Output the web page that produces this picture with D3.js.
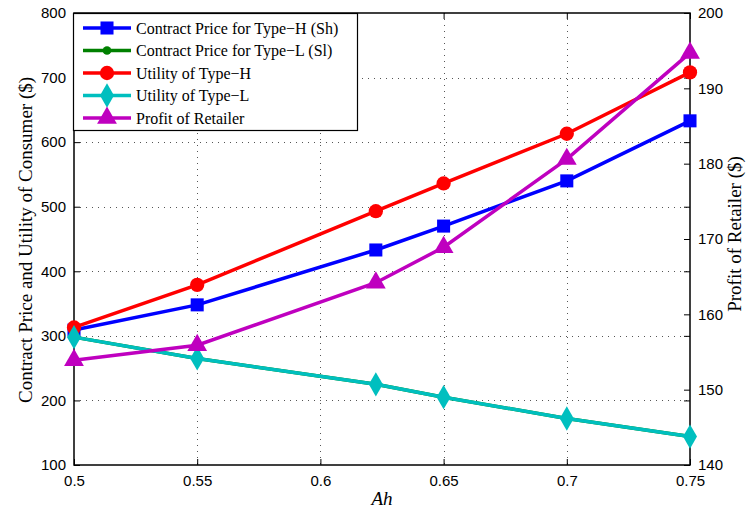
<!DOCTYPE html>
<html>
<head>
<meta charset="utf-8">
<script src="https://cdn.jsdelivr.net/npm/d3@7"></script>
<style>
  body { margin: 0; background: #fff; }
</style>
</head>
<body>
<script>
const ah = [0.5, 0.55, 0.6225, 0.65, 0.7, 0.75];
const priceH = [309, 348, 433, 470, 540, 633];
const priceL = [298, 265, 225, 205, 172, 144];
const utilH = [313, 379, 493, 536, 613, 708];
const utilL = [298, 265, 225, 205, 172, 144];
const profit = [153.9, 155.9, 164.2, 168.9, 180.6, 194.7];

const xTicks = [0.5, 0.55, 0.6, 0.65, 0.7, 0.75];
const yTicks = [100, 200, 300, 400, 500, 600, 700, 800];
const y2Ticks = [140, 150, 160, 170, 180, 190, 200];

const width = 750, height = 514;
const mLeft = 74, mRight = 690, mTop = 13, mBottom = 465;

const svg = d3.create("svg")
    .attr("width", width)
    .attr("height", height);
document.body.appendChild(svg.node());

const x = d3.scaleLinear().domain([0.5, 0.75]).range([mLeft, mRight]);
const y = d3.scaleLinear().domain([100, 800]).range([mBottom, mTop]);
const y2 = d3.scaleLinear().domain([140, 200]).range([mBottom, mTop]);

// grid
const grid = svg.append("g")
    .attr("stroke", "#555")
    .attr("stroke-width", 1)
    .attr("stroke-dasharray", "1,5");
grid.selectAll("line.gx")
    .data(xTicks.slice(1, -1))
    .join("line")
    .attr("x1", d => Math.round(x(d)) + 0.5).attr("x2", d => Math.round(x(d)) + 0.5)
    .attr("y1", mTop).attr("y2", mBottom);
grid.selectAll("line.gy")
    .data(yTicks.slice(1, -1))
    .join("line")
    .attr("y1", d => Math.round(y(d)) + 0.5).attr("y2", d => Math.round(y(d)) + 0.5)
    .attr("x1", mLeft).attr("x2", mRight);

// axes (ticks inward, like matlab)
const tickFont = "'Liberation Sans', Arial, sans-serif";
const axB = svg.append("g").attr("transform", `translate(0,${mBottom})`)
    .call(d3.axisBottom(x).tickValues(xTicks).tickSize(-6).tickPadding(10).tickFormat(d3.format("")));
const axT = svg.append("g").attr("transform", `translate(0,${mTop})`)
    .call(d3.axisTop(x).tickValues(xTicks).tickSize(-6).tickFormat(""));
const axL = svg.append("g").attr("transform", `translate(${mLeft},0)`)
    .call(d3.axisLeft(y).tickValues(yTicks).tickSize(-6).tickPadding(8));
const axR1 = svg.append("g").attr("transform", `translate(${mRight},0)`)
    .call(d3.axisRight(y).tickValues(yTicks).tickSize(-6).tickFormat(""));
const axR = svg.append("g").attr("transform", `translate(${mRight},0)`)
    .call(d3.axisRight(y2).tickValues(y2Ticks).tickSize(-6).tickPadding(8));

[axB, axT, axL, axR1, axR].forEach(a => {
  a.select(".domain").remove();
  a.selectAll("line").attr("stroke", "#000");
  a.selectAll("text").attr("fill", "#000")
    .style("font-family", tickFont).style("font-size", "15px");
});

// box
svg.append("rect")
    .attr("x", mLeft).attr("y", mTop)
    .attr("width", mRight - mLeft).attr("height", mBottom - mTop)
    .attr("fill", "none").attr("stroke", "#000").attr("stroke-width", 1.5);

const series = [
  { name: "Contract Price for Type\u2212H (Sh)", vals: priceH, axis: y, color: "#0000ff", marker: "square" },
  { name: "Contract Price for Type\u2212L (Sl)", vals: priceL, axis: y, color: "#008000", marker: "dot" },
  { name: "Utility of Type\u2212H", vals: utilH, axis: y, color: "#ff0000", marker: "circle" },
  { name: "Utility of Type\u2212L", vals: utilL, axis: y, color: "#00bfbf", marker: "diamond" },
  { name: "Profit of Retailer", vals: profit, axis: y2, color: "#bf00bf", marker: "triangle" }
];

const symbols = {
  square: d3.symbol(d3.symbolSquare, 170),
  dot: d3.symbol(d3.symbolCircle, 60),
  circle: d3.symbol(d3.symbolCircle, 160),
  diamond: d3.symbol(d3.symbolDiamond, 170),
  triangle: d3.symbol(d3.symbolTriangle, 170)
};

const line = d3.line();
series.forEach(s => {
  const pts = ah.map((a, i) => [x(a), s.axis(s.vals[i])]);
  svg.append("path")
      .attr("d", line(pts))
      .attr("fill", "none")
      .attr("stroke", s.color)
      .attr("stroke-width", 3.5);
  svg.append("g").selectAll("path")
      .data(pts)
      .join("path")
      .attr("transform", d => `translate(${d[0]},${d[1]})`)
      .attr("d", symbols[s.marker])
      .attr("fill", s.color);
});

// legend
const lg = svg.append("g");
lg.append("rect")
    .attr("x", 73.5).attr("y", 13.5)
    .attr("width", 284).attr("height", 117)
    .attr("fill", "#fff").attr("stroke", "#000").attr("stroke-width", 1.2);
const rowY = d3.scalePoint().domain(series.map(s => s.name)).range([28, 118]);
series.forEach(s => {
  const yy = rowY(s.name);
  lg.append("line")
      .attr("x1", 83).attr("x2", 131).attr("y1", yy).attr("y2", yy)
      .attr("stroke", s.color).attr("stroke-width", 3.5);
  lg.append("path")
      .attr("transform", `translate(107,${yy})`)
      .attr("d", symbols[s.marker])
      .attr("fill", s.color);
  lg.append("text")
      .attr("x", 136).attr("y", yy).attr("dy", "0.35em")
      .style("font-family", "'Liberation Serif', 'Times New Roman', serif")
      .style("font-size", "16px")
      .text(s.name);
});

// axis titles
const serif = "'Liberation Serif', 'Times New Roman', serif";
svg.append("text")
    .attr("transform", `translate(32,240) rotate(-90)`)
    .attr("text-anchor", "middle")
    .style("font-family", serif).style("font-size", "19px")
    .text("Contract Price and Utility of Consumer ($)");
svg.append("text")
    .attr("transform", `translate(741,234) rotate(-90)`)
    .attr("text-anchor", "middle")
    .style("font-family", serif).style("font-size", "19px")
    .text("Profit of Retailer ($)");
svg.append("text")
    .attr("x", (mLeft + mRight) / 2).attr("y", 505)
    .attr("text-anchor", "middle")
    .style("font-family", serif).style("font-size", "19px").style("font-style", "italic")
    .text("Ah");
</script>
</body>
</html>
